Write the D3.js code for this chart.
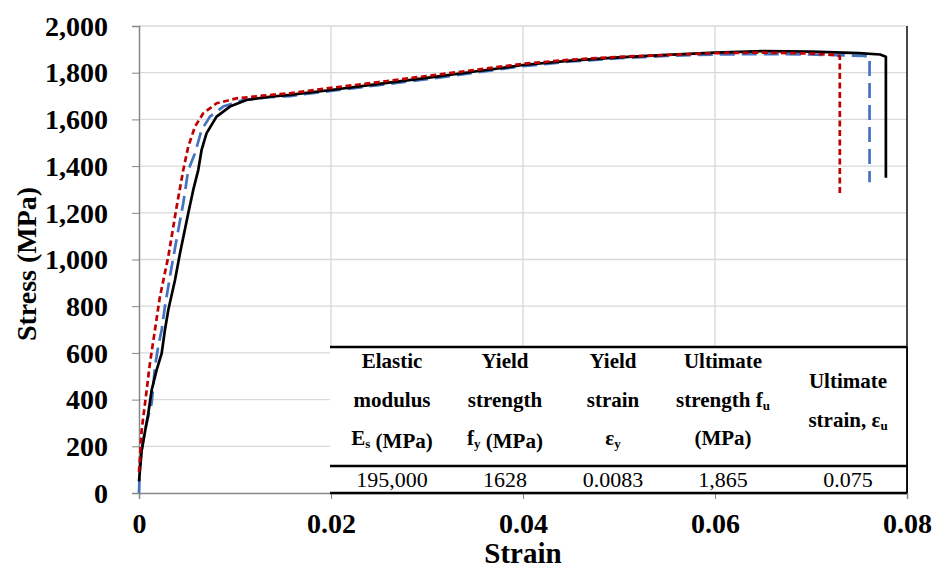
<!DOCTYPE html>
<html><head><meta charset="utf-8">
<script src="https://cdn.jsdelivr.net/npm/d3@7/dist/d3.min.js"></script>
<style>body{margin:0;background:#fff}svg{display:block}</style>
</head><body>
<script>
// ---- data ----
const blackStrain = [0,0.00028,0.00097,0.00132,0.00184,0.00236,0.0027,0.00305,0.00375,0.00427,0.00513,0.00565,0.00617,0.00652,0.00704,0.00808,0.00947,0.0112,0.01363,0.0157,0.02,0.025,0.03,0.035,0.04,0.045,0.05,0.055,0.06,0.065,0.07,0.075,0.0772,0.0778,0.0778];
const blackStress = [50,184,341,441,527,598,698,784,912,1027,1198,1298,1383,1469,1541,1612,1655,1683,1697,1705,1726,1752,1778,1805,1833,1852,1866,1876,1886,1892,1890,1884,1878,1868,1350];
const blueStrain = [0,0.0001,0.00062,0.00132,0.00166,0.002,0.00236,0.0027,0.0034,0.00409,0.00461,0.00513,0.00583,0.00652,0.00739,0.00877,0.01085,0.01363,0.0157,0.02,0.025,0.03,0.035,0.04,0.045,0.05,0.055,0.06,0.065,0.07,0.0755,0.0761,0.0761];
const blueStress = [0,128,270,385,541,627,698,798,969,1126,1241,1383,1455,1555,1612,1655,1683,1695,1700,1722,1747,1772,1800,1828,1848,1862,1872,1878,1880,1878,1872,1868,1331];
const redStrain = [0,0.00028,0.0008,0.00114,0.00166,0.00218,0.00305,0.00392,0.00461,0.00513,0.00583,0.00669,0.00808,0.01016,0.01293,0.0157,0.02,0.025,0.03,0.035,0.04,0.045,0.05,0.055,0.06,0.065,0.07,0.0725,0.0730,0.0730];
const redStress = [90,270,441,556,698,841,1012,1226,1383,1483,1569,1626,1669,1690,1702,1712,1735,1760,1786,1812,1838,1856,1868,1876,1884,1886,1882,1876,1870,1285];
const xTicks = [0,0.02,0.04,0.06,0.08];
const yTicks = [0,200,400,600,800,1000,1200,1400,1600,1800,2000];
const tableHeaders = [
  [["Elastic"],["modulus"],["E",{sub:"s"}," (MPa)"]],
  [["Yield"],["strength"],["f",{sub:"y"}," (MPa)"]],
  [["Yield"],["strain"],["ε",{sub:"y"}]],
  [["Ultimate"],["strength f",{sub:"u"}],["(MPa)"]],
  [["Ultimate"],["strain, ε",{sub:"u"}]]
];
const tableValues = ["195,000","1628","0.0083","1,865","0.075"];

// ---- layout ----
const W=935,H=570;
const L=139,R=907,T=26,B=493;
const x=d3.scaleLinear().domain([0,0.08]).range([L,R]);
const y=d3.scaleLinear().domain([0,2000]).range([B,T]);
const svg=d3.select("body").append("svg").attr("width",W).attr("height",H);
const font='"Liberation Serif"';

// gridlines
svg.append("g").selectAll("line").data(yTicks.filter(d=>d>0)).join("line")
  .attr("x1",L).attr("x2",R).attr("y1",d=>y(d)).attr("y2",d=>y(d))
  .attr("stroke","#d9d9d9").attr("stroke-width",1.3);
svg.append("g").selectAll("line").data(xTicks.filter(d=>d>0&&d<0.08)).join("line")
  .attr("y1",T).attr("y2",B).attr("x1",d=>x(d)).attr("x2",d=>x(d))
  .attr("stroke","#d9d9d9").attr("stroke-width",1.3);

// axes
const yAxis=svg.append("g").attr("transform",`translate(${L},0)`)
  .call(d3.axisLeft(y).tickValues(yTicks).tickSize(7).tickPadding(24).tickFormat(d3.format(",")));
const xAxis=svg.append("g").attr("transform",`translate(0,${B})`)
  .call(d3.axisBottom(x).tickValues(xTicks).tickSize(6).tickPadding(14).tickFormat(d=>d===0?"0":d3.format(".2f")(d)));
[yAxis,xAxis].forEach(g=>{
  g.attr("font-family",null).attr("font-size",null);
  g.select(".domain").attr("stroke","#868686").attr("stroke-width",1.5);
  g.selectAll(".tick line").attr("stroke","#868686").attr("stroke-width",1);
  g.selectAll("text").style("font-family",font).style("font-weight","bold").style("font-size","28px").attr("fill","#000");
});
yAxis.selectAll("text").attr("dy","0.33em");
// right border
svg.append("line").attr("x1",R).attr("x2",R).attr("y1",T).attr("y2",B).attr("stroke","#333").attr("stroke-width",1.8);

// lines
const line=d3.line().x(d=>x(d[0])).y(d=>y(d[1]));
function draw(xs,ys,color,dash){
  svg.append("path").datum(xs.map((v,i)=>[v,ys[i]])).attr("d",line)
    .attr("fill","none").attr("stroke",color).attr("stroke-width",2.7)
    .attr("stroke-dasharray",dash).attr("stroke-linejoin","round");
}
draw(blueStrain,blueStress,"#4472C4","15,7");
draw(blackStrain,blackStress,"#000","none");
draw(redStrain,redStress,"#C00000","6,3.5");

// table
const tL=330,tT=347,tS=466;
svg.append("rect").attr("x",tL).attr("y",tT).attr("width",R-tL).attr("height",B-tT).attr("fill","#fff");
[tT,tS,B].forEach(yy=>svg.append("line").attr("x1",tL).attr("x2",R).attr("y1",yy).attr("y2",yy).attr("stroke","#000").attr("stroke-width",2.4));
svg.append("line").attr("x1",R).attr("x2",R).attr("y1",tT).attr("y2",B).attr("stroke","#000").attr("stroke-width",1.8);
const colX=[392,505,613,723,848];
tableHeaders.forEach((rows,i)=>{
  const n=rows.length;
  const startY= n===3?368:388;
  rows.forEach((parts,j)=>{
    const t=svg.append("text").attr("x",colX[i]).attr("y",startY+j*38.5)
      .attr("text-anchor","middle").style("font-family",font).style("font-weight","bold").style("font-size","21px");
    parts.forEach(p=>{
      if(typeof p==="string") t.append("tspan").text(p);
      else { t.append("tspan").style("font-size","13px").attr("dy",3).text(p.sub); t.append("tspan").attr("dy",-3).text(""); }
    });
  });
});
tableValues.forEach((v,i)=>{
  svg.append("text").attr("x",colX[i]).attr("y",487).attr("text-anchor","middle")
    .style("font-family",font).style("font-size","22px").text(v);
});

// titles
svg.append("text").attr("x",523).attr("y",563).attr("text-anchor","middle")
  .style("font-family",font).style("font-weight","bold").style("font-size","29px").text("Strain");
svg.append("text").attr("transform","translate(36,264) rotate(-90)").attr("text-anchor","middle")
  .style("font-family",font).style("font-weight","bold").style("font-size","28px").text("Stress (MPa)");
</script>
</body></html>
